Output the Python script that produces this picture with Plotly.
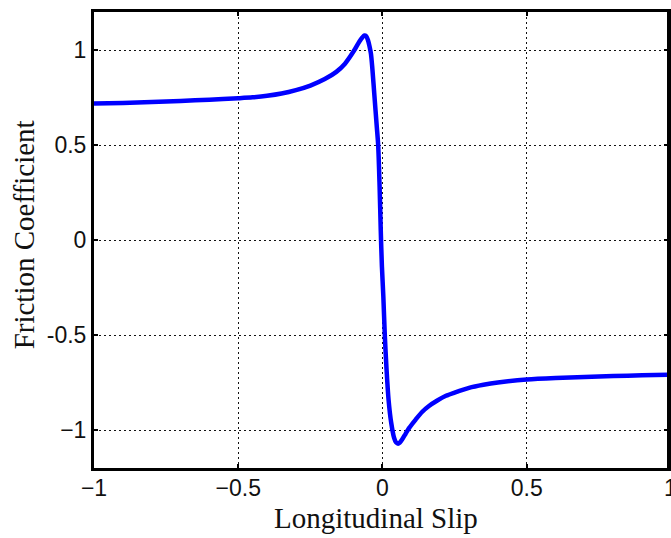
import plotly.graph_objects as go

# Longitudinal slip vs. friction coefficient (tyre force curve)
slip = [-1.0, -0.9, -0.8, -0.7, -0.6, -0.5, -0.45, -0.4, -0.35, -0.3,
        -0.25, -0.2, -0.16, -0.13, -0.10, -0.08, -0.07, -0.063, -0.056, -0.05,
        -0.045, -0.04, -0.035, -0.028, -0.02, -0.015, -0.010, -0.006, -0.002, 0.003,
        0.008, 0.014, 0.021, 0.030, 0.040, 0.047, 0.054, 0.060, 0.068, 0.080,
        0.092, 0.115, 0.138, 0.16, 0.19, 0.22, 0.25, 0.3, 0.35, 0.4,
        0.5, 0.6, 0.7, 0.8, 0.9, 1.0]
mu = [0.718, 0.721, 0.726, 0.732, 0.738, 0.746, 0.751, 0.759, 0.771, 0.789,
      0.813, 0.847, 0.885, 0.928, 0.993, 1.045, 1.066, 1.076, 1.072, 1.05,
      1.02, 0.98, 0.90, 0.76, 0.60, 0.50, 0.28, 0.05, -0.14, -0.30,
      -0.50, -0.68, -0.84, -0.96, -1.04, -1.065, -1.072, -1.066, -1.05, -1.02,
      -0.99, -0.945, -0.904, -0.875, -0.845, -0.82, -0.803, -0.778, -0.762, -0.750,
      -0.734, -0.726, -0.721, -0.716, -0.712, -0.709]

x_ticks = [-1, -0.5, 0, 0.5, 1]
x_tick_text = ["\u22121", "\u22120.5", "0", "0.5", "1"]
y_ticks = [-1, -0.5, 0, 0.5, 1]
y_tick_text = ["\u22121", "-0.5", "0", "0.5", "1"]

x_title = "Longitudinal Slip"
y_title = "Friction Coefficient"

W, H = 671, 538
ML, MR, MT, MB = 94, 0, 12, 70
px_per_unit = 290.0
x_hi = -1 + (W - ML - MR) / px_per_unit
plot_w = W - ML - MR
plot_h = H - MT - MB

tick_font = dict(family="Liberation Sans, Arial, sans-serif", size=23, color="#111111")
title_font = dict(family="Liberation Serif, Times New Roman, serif", size=29, color="#111111")

fig = go.Figure()
fig.add_trace(go.Scatter(
    x=slip, y=mu, mode="lines",
    line=dict(color="#0000ff", width=4.5, shape="spline", smoothing=0.8),
    hoverinfo="skip", showlegend=False,
))

axis_common = dict(
    showline=True, linecolor="black", linewidth=3,
    ticks="inside", ticklen=4, tickwidth=2, tickcolor="black",
    mirror="allticks",
    showgrid=True, gridcolor="#111111", gridwidth=1, griddash="2px,3px",
    zeroline=False, tickfont=tick_font,
)

fig.update_xaxes(range=[-1, x_hi], tickvals=x_ticks, ticktext=x_tick_text,
                 ticklabelstandoff=-3, **axis_common)
fig.update_yaxes(range=[-1.2, 1.2], tickvals=y_ticks, ticktext=y_tick_text, **axis_common)

# right frame edge
fig.add_shape(type="line", xref="paper", yref="paper", x0=1, x1=1, y0=0, y1=1,
              line=dict(color="black", width=2))

# the "1" label at the right end of the slip axis (partly beyond the page edge)
fig.add_annotation(x=(1 - (-1)) * px_per_unit / plot_w, y=(H - MB - 488) / plot_h,
                   xref="paper", yref="paper",
                   text="1", showarrow=False, font=tick_font,
                   xanchor="center", yanchor="middle")

fig.add_annotation(x=(377.5 - ML) / plot_w, y=(H - MB - 518) / plot_h,
                   xref="paper", yref="paper", text=x_title, showarrow=False,
                   font=title_font, xanchor="center", yanchor="middle")
fig.add_annotation(x=(24 - ML) / plot_w, y=(H - MB - 235) / plot_h,
                   xref="paper", yref="paper", text=y_title, showarrow=False,
                   font=title_font, textangle=-90, xanchor="center", yanchor="middle")

fig.update_layout(
    width=W, height=H,
    margin=dict(l=ML, r=MR, t=MT, b=MB, pad=0),
    paper_bgcolor="white", plot_bgcolor="white",
)

fig.write_html("out.html")
